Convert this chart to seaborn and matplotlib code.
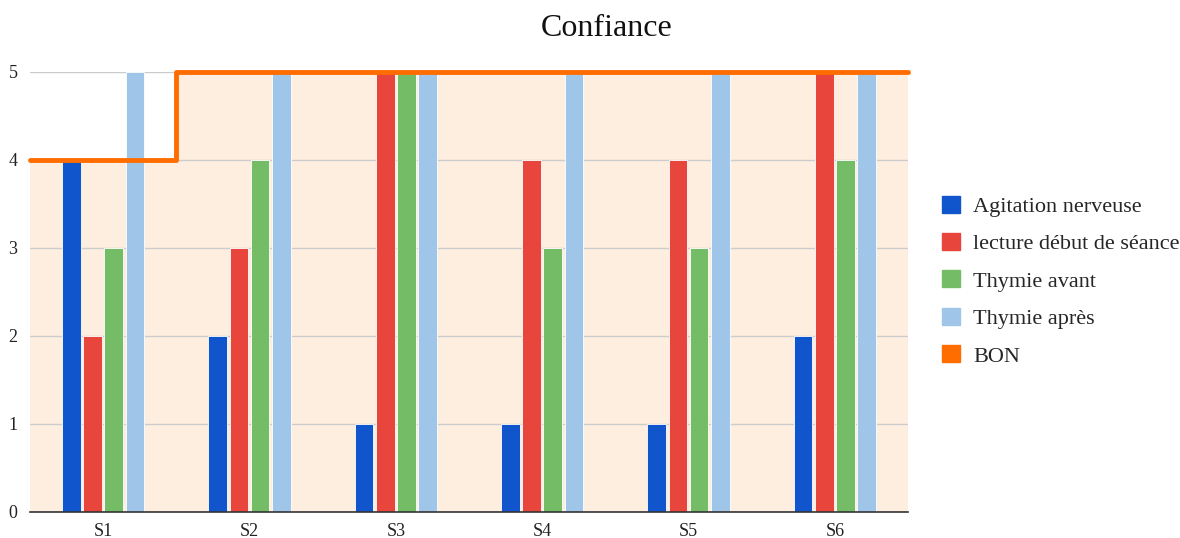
import numpy as np
import pandas as pd
import matplotlib
matplotlib.use("Agg")
import matplotlib.pyplot as plt
from matplotlib.patches import Patch
import seaborn as sns

sessions = ["S1", "S2", "S3", "S4", "S5", "S6"]
agitation = [4, 2, 1, 1, 1, 2]
lecture = [2, 3, 5, 4, 4, 5]
thymie_avant = [3, 4, 5, 3, 3, 4]
thymie_apres = [5, 5, 5, 5, 5, 5]
bon = [4, 5, 5, 5, 5, 5]

series = {
    "Agitation nerveuse": agitation,
    "lecture début de séance": lecture,
    "Thymie avant": thymie_avant,
    "Thymie après": thymie_apres,
}
colors = ["#1155cc", "#e8453c", "#74bd66", "#9fc5e8"]
orange = "#ff6d01"

df = pd.DataFrame(
    [(s, name, v) for name, vals in series.items() for s, v in zip(sessions, vals)],
    columns=["Session", "Serie", "Valeur"],
)

sns.set_style("white")
plt.rcParams["font.family"] = ["Liberation Serif", "DejaVu Serif"]

fig = plt.figure(figsize=(11.8, 5.38), dpi=100)
ax = fig.add_axes([30 / 1180, 26 / 538, 878 / 1180, 440 / 538])

# stepped area "BON"
edges = np.arange(len(sessions) + 1) - 0.5
steps = bon + [bon[-1]]
ax.fill_between(edges, 0, steps, step="post", color="#feeee0", zorder=0.2, linewidth=0)

sns.barplot(
    data=df,
    x="Session",
    y="Valeur",
    hue="Serie",
    palette=colors,
    width=0.58,
    gap=0.12,
    saturation=1,
    edgecolor="white",
    linewidth=0.6,
    ax=ax,
    legend=False,
    zorder=2,
)
ax.step(edges, steps, where="post", color=orange, linewidth=3.5, zorder=4, clip_on=False)

ax.set_xlim(-0.5, 5.5)
ax.set_ylim(0, 5)
ax.set_yticks(range(6))
ax.yaxis.grid(True, color="#cccccc", linewidth=1)
ax.set_axisbelow(True)
for s in ["top", "right", "left"]:
    ax.spines[s].set_visible(False)
ax.spines["bottom"].set_color("#333333")
ax.spines["bottom"].set_linewidth(1.2)
ax.tick_params(axis="both", length=0, labelsize=13, colors="#222222")
ax.tick_params(axis="y", pad=9)
ax.tick_params(axis="x", pad=8)
ax.set(xlabel="", ylabel="")

fig.text(607 / 1180, 1 - 29 / 538, "Confiance", ha="center", va="center", fontsize=23, color="#111111")

handles = [Patch(facecolor=c, edgecolor=c) for c in colors + [orange]]
labels = list(series.keys()) + ["BON"]
fig.legend(
    handles,
    labels,
    loc="center left",
    bbox_to_anchor=(922 / 1180, 1 - 281 / 538),
    frameon=False,
    fontsize=16,
    handlelength=0.8,
    handleheight=0.8,
    handletextpad=0.6,
    labelspacing=0.73,
)

fig.savefig("out.png", dpi=100)
